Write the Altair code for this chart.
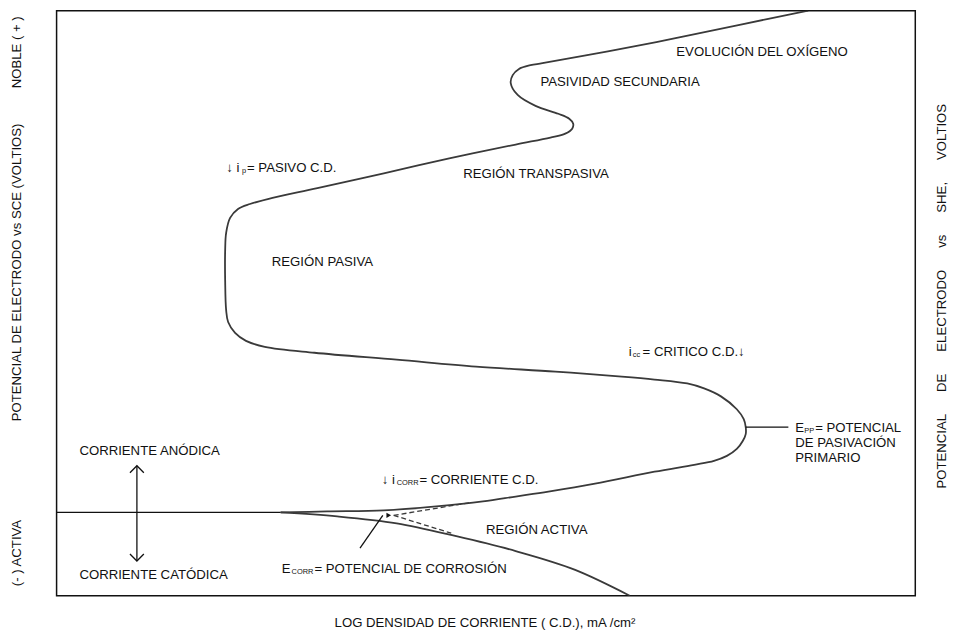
import altair as alt
import pandas as pd

FONT = "Liberation Sans"
INK = "#111111"
CURVE = "#3a3a3a"
FS = 13.3
SUB = 7.5

# Axis frame in the drawing's own units (log i to the right, potential drawn upward)
X_DOMAIN = [57, 923]
Y_DOMAIN = [598, 8]

# Anodic polarization curve
anodic_x = [283, 330, 387, 440, 487, 520, 553, 600, 660, 700,
            720, 733, 743, 749, 752, 752, 750, 743, 727, 710,
            693, 660, 627, 560, 480, 400, 317, 267, 248, 237,
            230, 228, 227, 227, 228, 232, 240, 252, 270, 320,
            387, 453, 520, 555, 570, 577, 578, 574, 563, 540,
            522, 515, 517, 523, 535, 547, 613, 680, 747, 815]
anodic_y = [514, 513, 512, 508, 503, 498, 493, 485, 473, 466,
            462, 457, 450, 442, 435, 428, 420, 410, 397, 389,
            384, 380, 377, 372, 367, 360, 353, 347, 341, 333,
            322, 310, 280, 250, 232, 217, 208, 203, 198, 187,
            172, 157, 143, 136, 132, 127, 122, 117, 112, 104,
            93, 81, 73, 67, 63, 61, 49, 36, 22, 8]

# Cathodic branch
cath_x = [283, 340, 400, 460, 520, 580, 635]
cath_y = [514, 518, 525, 538, 553, 572, 598]

# Tafel extrapolations (dashed)
dash_group = ["a", "a", "c", "c"]
dash_x = [397, 475, 397, 455]
dash_y = [517, 504, 517, 535]

# Guide segments: equilibrium line, E_pp marker, double arrow, E_corr pointer
seg_group = ["eq", "eq", "epp", "epp", "shaft", "shaft",
             "up", "up", "up", "dn", "dn", "dn", "ptr", "ptr"]
seg_x = [57, 283, 752, 795, 138, 138,
         131, 138, 145, 131, 138, 145, 363, 386]
seg_y = [514, 514, 428, 428, 467, 563,
         474, 467, 474, 556, 563, 556, 550, 517]

# Labels inside the frame
lab_text = ["EVOLUCIÓN DEL OXÍGENO", "PASIVIDAD SECUNDARIA", "REGIÓN TRANSPASIVA",
            "↓ i", "= PASIVO C.D.", "REGIÓN PASIVA",
            "i", "= CRITICO C.D.↓",
            "E", "= POTENCIAL", "DE PASIVACIÓN", "PRIMARIO",
            "CORRIENTE ANÓDICA", "CORRIENTE CATÓDICA",
            "↓ i", "= CORRIENTE C.D.", "REGIÓN ACTIVA",
            "E", "= POTENCIAL DE CORROSIÓN"]
lab_x = [682, 545, 467,
         228, 249, 274,
         634, 648,
         802, 822, 802, 802,
         80, 80,
         385, 423, 490,
         284, 317]
lab_y = [50, 80, 173,
         167, 167, 262,
         352, 352,
         429, 429, 444, 459,
         452, 577,
         481, 481, 532,
         571, 571]

# Subscripts
sub_text = ["p", "cc", "PP", "CORR", "CORR"]
sub_x = [244, 638, 811, 400, 294]
sub_y = [170, 355, 432, 484, 574]

# Axis titles
xt_text = ["LOG DENSIDAD DE CORRIENTE ( C.D.), mA /cm²"]
xt_x = [489]
xt_y = [626]
gap = "\u00a0" * 6
yt_text = ["NOBLE ( + )", "POTENCIAL DE ELECTRODO vs SCE (VOLTIOS)", "(- ) ACTIVA",
           gap.join(["POTENCIAL", "DE", "ELECTRODO", "vs", "SHE,", "VOLTIOS"])]
yt_x = [17, 17, 17, 950]
yt_y = [50, 272, 555, 296]

X = alt.X("x:Q", scale=alt.Scale(domain=X_DOMAIN, nice=False, zero=False), axis=None)
Y = alt.Y("y:Q", scale=alt.Scale(domain=Y_DOMAIN, nice=False, zero=False), axis=None)

anodic_df = pd.DataFrame({"x": anodic_x, "y": anodic_y, "i": range(len(anodic_x))})
cath_df = pd.DataFrame({"x": cath_x, "y": cath_y, "i": range(len(cath_x))})
dash_df = pd.DataFrame({"x": dash_x, "y": dash_y, "g": dash_group, "i": range(len(dash_x))})
seg_df = pd.DataFrame({"x": seg_x, "y": seg_y, "g": seg_group, "i": range(len(seg_x))})
lab_df = pd.DataFrame({"x": lab_x, "y": lab_y, "t": lab_text})
sub_df = pd.DataFrame({"x": sub_x, "y": sub_y, "t": sub_text})
xt_df = pd.DataFrame({"x": xt_x, "y": xt_y, "t": xt_text})
yt_df = pd.DataFrame({"x": yt_x, "y": yt_y, "t": yt_text})
head_df = pd.DataFrame({"x": [392], "y": [517]})

anodic = alt.Chart(anodic_df).mark_line(
    color=CURVE, strokeWidth=1.8, interpolate="catmull-rom", clip=True
).encode(X, Y, order="i:Q")

cathodic = alt.Chart(cath_df).mark_line(
    color=CURVE, strokeWidth=1.8, interpolate="monotone", clip=True
).encode(X, Y, order="i:Q")

dashed = alt.Chart(dash_df).mark_line(
    color=CURVE, strokeWidth=1.3, strokeDash=[5, 3]
).encode(X, Y, detail="g:N", order="i:Q")

segs = alt.Chart(seg_df).mark_line(color=INK, strokeWidth=1.3).encode(
    X, Y, detail="g:N", order="i:Q"
)

head = alt.Chart(head_df).mark_point(
    shape="triangle-right", filled=True, color=INK, size=30, opacity=1
).encode(X, Y)

labels = alt.Chart(lab_df).mark_text(
    align="left", baseline="middle", font=FONT, fontSize=FS, color=INK
).encode(X, Y, text="t:N")

subs = alt.Chart(sub_df).mark_text(
    align="left", baseline="middle", font=FONT, fontSize=SUB, color=INK
).encode(X, Y, text="t:N")

xtitle = alt.Chart(xt_df).mark_text(
    align="center", baseline="middle", font=FONT, fontSize=FS, color=INK
).encode(X, Y, text="t:N")

ytitles = alt.Chart(yt_df).mark_text(
    align="center", baseline="middle", font=FONT, fontSize=FS, color=INK, angle=270
).encode(X, Y, text="t:N")

chart = alt.layer(
    anodic, cathodic, dashed, segs, head, labels, subs, xtitle, ytitles
).properties(
    width=866,
    height=590,
    autosize=alt.AutoSizeParams(type="none"),
    padding={"left": 49, "top": 0, "right": 34, "bottom": 40},
).configure_view(
    stroke="#111111", strokeWidth=1.5
)

chart.save("out.html", embed_options={"renderer": "svg", "actions": False})
